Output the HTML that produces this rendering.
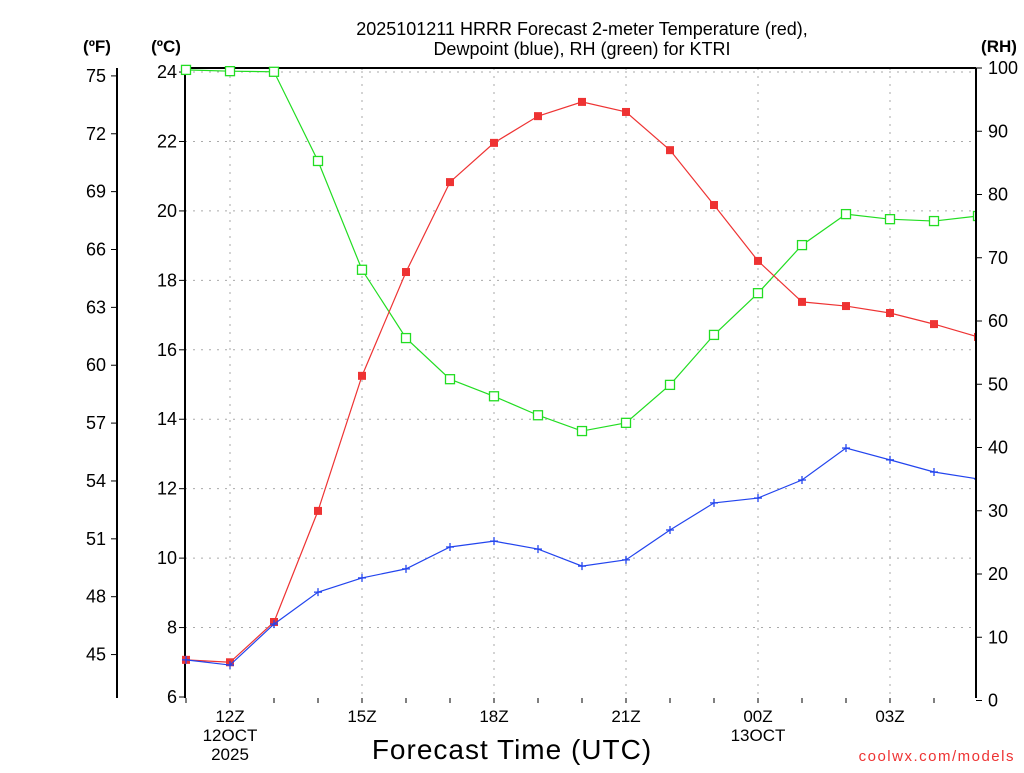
<!DOCTYPE html>
<html><head><meta charset="utf-8"><style>
body{margin:0;background:#fff;width:1024px;height:768px;overflow:hidden}
svg text{font-family:"Liberation Sans","DejaVu Sans",sans-serif}
</style></head><body>
<svg id="c" width="1024" height="768" xmlns="http://www.w3.org/2000/svg"></svg>
<script>
const hours=["11","12","13","14","15","16","17","18","19","20","21","22","23","00","01","02","03","04","05"];
const tempC=[7.07,7.0,8.16,11.36,15.25,18.24,20.83,21.96,22.73,23.14,22.85,21.75,20.17,18.56,17.38,17.26,17.06,16.74,16.37];
const dewC=[7.07,6.92,8.1,9.02,9.43,9.69,10.32,10.49,10.26,9.77,9.95,10.81,11.59,11.73,12.25,13.17,12.83,12.48,12.28];
const rh=[99.7,99.5,99.4,85.3,68.1,57.3,50.8,48.1,45.1,42.6,43.9,49.9,57.8,64.4,72.0,76.9,76.1,75.8,76.6];
const cTicks=[6,8,10,12,14,16,18,20,22,24];
const fTicks=[45,48,51,54,57,60,63,66,69,72,75];
const rhTicks=[0,10,20,30,40,50,60,70,80,90,100];
const xLabels=[{i:1,a:"12Z",b:"12OCT",c:"2025"},{i:4,a:"15Z"},{i:7,a:"18Z"},{i:10,a:"21Z"},{i:13,a:"00Z",b:"13OCT"},{i:16,a:"03Z"}];
const L=185,R=976,T=68,B=698;
const x=i=>186+i*44;
const yC=c=>697-(c-6)*34.72;
const yF=f=>yC((f-32)*5/9);
const yR=r=>700.5-r*6.325;
const s=document.getElementById('c');const NS="http://www.w3.org/2000/svg";
function el(t,a,p){const e=document.createElementNS(NS,t);for(const k in a)e.setAttribute(k,a[k]);(p||s).appendChild(e);return e;}
function tx(str,X,Y,o){const e=el('text',Object.assign({x:X,y:Y,'font-size':16,fill:'#000'},o||{}));e.textContent=str;return e;}
const g=el('g',{});
cTicks.slice(1).forEach(c=>el('line',{x1:L,x2:R,y1:yC(c),y2:yC(c),stroke:'#aaa','stroke-dasharray':'2,6'},g));
xLabels.forEach(l=>el('line',{x1:x(l.i),x2:x(l.i),y1:T,y2:B,stroke:'#aaa','stroke-dasharray':'2,6'},g));
const ax=el('g',{});
el('line',{x1:L,x2:R,y1:T,y2:T,stroke:'#000','stroke-width':2},ax);
el('line',{x1:L,x2:L,y1:T,y2:B,stroke:'#000','stroke-width':2},ax);
el('line',{x1:117,x2:117,y1:T,y2:B,stroke:'#000','stroke-width':2},ax);
cTicks.forEach(c=>{el('line',{x1:L-6,x2:L,y1:yC(c),y2:yC(c),stroke:'#000'},ax);tx(c,177,yC(c)+6,{'text-anchor':'end','font-size':18});});
fTicks.forEach(f=>{el('line',{x1:111,x2:117,y1:yF(f),y2:yF(f),stroke:'#000'},ax);tx(f,106,yF(f)+6,{'text-anchor':'end','font-size':18});});
hours.forEach((h,i)=>el('line',{x1:x(i),x2:x(i),y1:B,y2:B+5,stroke:'#000'},ax));
xLabels.forEach(l=>{tx(l.a,x(l.i),722,{'text-anchor':'middle','font-size':17});if(l.b)tx(l.b,x(l.i),741,{'text-anchor':'middle','font-size':17});if(l.c)tx(l.c,x(l.i),760,{'text-anchor':'middle','font-size':17});});
function series(arr,yf,col,mk,name){const gg=el('g',{});
el('polyline',{points:arr.map((v,i)=>x(i)+','+yf(v)).join(' '),fill:'none',stroke:col,'stroke-width':1.2},gg);
arr.forEach((v,i)=>{const X=x(i),Y=yf(v);if(mk==='fill')el('rect',{x:X-4,y:Y-4,width:8,height:8,fill:col},gg);
else if(mk==='open')el('rect',{x:X-4.5,y:Y-4.5,width:9,height:9,fill:'#fff',stroke:col,'stroke-width':1.3},gg);
else{el('line',{x1:X-4,x2:X+4,y1:Y,y2:Y,stroke:col,'stroke-width':1.3},gg);el('line',{x1:X,x2:X,y1:Y-4,y2:Y+4,stroke:col,'stroke-width':1.3},gg);}});}
series(rh,yR,'#22dd22','open','rh-series');
series(tempC,yC,'#ee3333','fill','temperature-series');
series(dewC,yC,'#2244ee','plus','dewpoint-series');
el('rect',{x:R+1,y:60,width:48,height:700,fill:'#fff'});
const ra=el('g',{});
rhTicks.forEach(r=>{el('line',{x1:R,x2:R+6,y1:yR(r),y2:yR(r),stroke:'#000'},ra);tx(r,988,yR(r)+6,{'font-size':18});});
el('line',{x1:R,x2:R,y1:T,y2:B,stroke:'#000','stroke-width':2},ra);
let t=tx("2025101211 HRRR Forecast 2-meter Temperature (red),",582,35,{'text-anchor':'middle','font-size':18});
t=tx("Dewpoint (blue), RH (green) for KTRI",582,55,{'text-anchor':'middle','font-size':18});
t=tx("(ºF)",97,52,{'text-anchor':'middle','font-weight':'bold','font-size':17});
t=tx("(ºC)",166,52,{'text-anchor':'middle','font-weight':'bold','font-size':17});
t=tx("(RH)",999,52,{'text-anchor':'middle','font-weight':'bold','font-size':17});
t=tx("Forecast Time (UTC)",512,759,{'text-anchor':'middle','font-size':28,'letter-spacing':'1'});
t=tx("coolwx.com/models",1015,761,{'text-anchor':'end','font-size':15,fill:'#ee3333','letter-spacing':'1.5'});
</script>
</body></html>
